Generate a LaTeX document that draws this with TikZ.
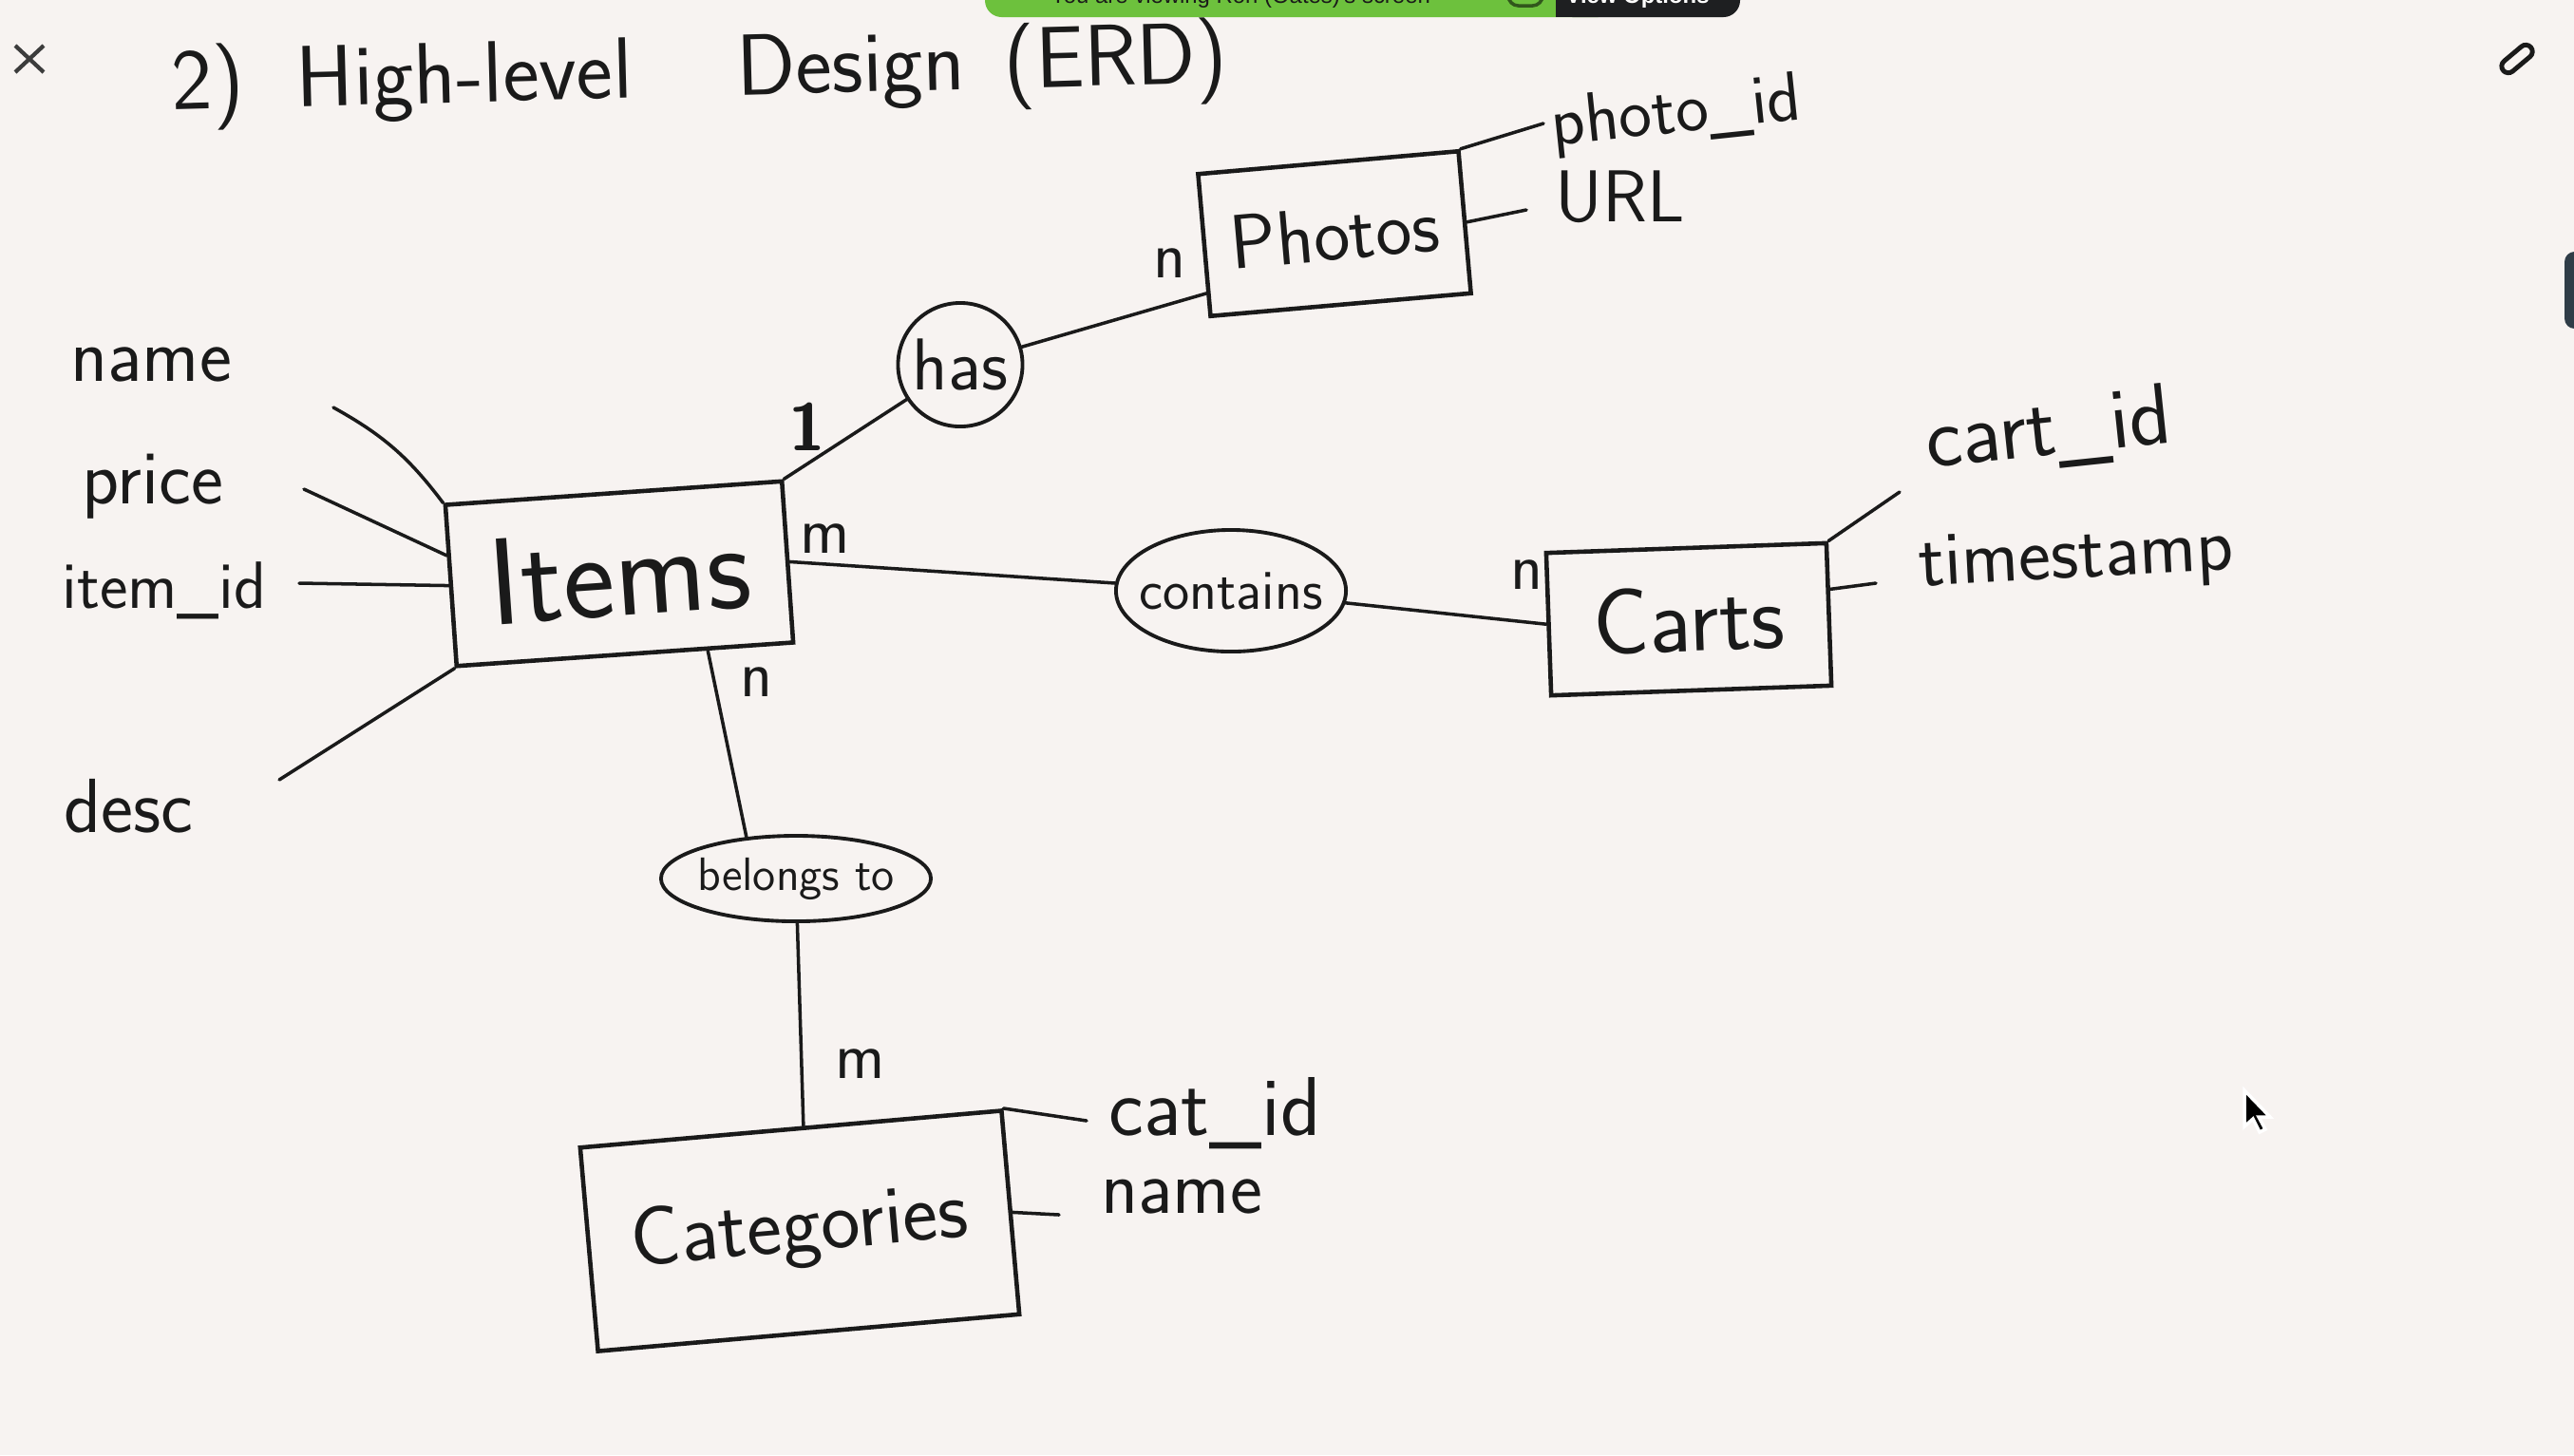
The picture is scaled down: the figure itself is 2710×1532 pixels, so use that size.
\documentclass[tikz,border=0pt]{standalone}
\usepackage{fontspec}
\newfontfamily\uifont{Liberation Sans}
\usetikzlibrary{positioning,shapes.geometric,calc}
\definecolor{paper}{HTML}{F7F3F1}
\definecolor{ink}{HTML}{1A1A1A}
\definecolor{zgreen}{HTML}{6DC13D}
\definecolor{zdark}{HTML}{1E1F21}
\definecolor{tabdark}{HTML}{2F3C47}

\begin{document}
\begin{tikzpicture}[
  x=0.01cm, y=-0.01cm,
  hand/.style={font=\fontsize{#1}{#1}\selectfont\sffamily, text=ink, inner sep=0pt},
  ent/.style={rectangle, draw=ink, line width=1.3pt, inner sep=0pt},
  rel/.style={ellipse, draw=ink, line width=1.1pt, inner sep=0pt},
  link/.style={draw=ink, line width=1pt, line cap=round},
  card/.style={hand=20},
]
\fill[paper] (0,0) rectangle (2710,1532);
\useasboundingbox (0,0) rectangle (2710,1532);

% ---------- Screen-share bar and icons ----------
\fill[zgreen, rounded corners=5pt] (1037,-20) rectangle (1700,18);
\fill[zdark, rounded corners=5pt] (1638,-20) rectangle (1832,18);
\fill[zdark] (1638,-20) rectangle (1660,18);
\node[font=\uifont\fontsize{6.8}{7}\selectfont, text=ink, anchor=base, inner sep=0pt] (viewing) at (1306,3) {You are viewing Ron (Oates)'s screen};
\draw[black!55!zgreen, line width=1pt, rounded corners=3pt] (1588,-12) rectangle (1624,6);
\node[font=\uifont\bfseries\fontsize{6.8}{7}\selectfont, text=white, anchor=base, inner sep=0pt] (viewopt) at (1724,3) {View Options};
\draw[ink!85, line width=1.2pt] (16,48) -- (46,76) (46,48) -- (16,76);
\draw[ink, line width=1.4pt, rounded corners=2pt, rotate around={40:(2650,62)}] (2631,55) rectangle (2669,69);
\fill[tabdark, rounded corners=3pt] (2700,265) rectangle (2740,346);
\filldraw[fill=black, draw=white, line width=1pt] (2363,1148) -- ++(0,38) -- ++(9,-8) -- ++(7,14)
  -- ++(6,-3) -- ++(-7,-13) -- ++(12,0) -- cycle;

% ---------- Title ----------
\node[hand=26, anchor=base west, rotate=1.5] (title) at (181,116)
  {2)\hspace{0.6em}High-level\hspace{1.2em}Design\hspace{0.45em}(ERD)};

% ---------- Entities ----------
\node[ent, minimum width=3.55cm, minimum height=1.7cm, rotate=4, hand=37] (items) at (652,604) {Items};
\node[ent, minimum width=2.75cm, minimum height=1.5cm, rotate=5, hand=23] (photos) at (1405,246) {Photos};
\node[ent, minimum width=2.95cm, minimum height=1.5cm, rotate=2, hand=28] (carts) at (1778,652) {Carts};
\node[ent, minimum width=4.45cm, minimum height=2.15cm, rotate=5, hand=25] (cats) at (842,1296) {Categories};

% ---------- Relationships ----------
\node[rel, minimum width=1.31cm, minimum height=1.3cm, label={[hand=22]center:has}] (has) at (1011,384) {};
\node[rel, minimum width=2.42cm, minimum height=1.28cm, label={[hand=17]center:contains}] (contains) at (1296,622) {};
\node[rel, minimum width=2.84cm, minimum height=0.9cm, label={[hand=14]center:belongs to}] (belongs) at (838,925) {};

\draw[link] (items.north east) -- (has);
\draw[link] (has) -- (photos.200);
\draw[link] (items.east) -- (contains);
\draw[link] (contains) -- (carts.west);
\draw[link] (items.-45) -- (belongs.140);
\draw[link] (belongs) -- (cats.83);

% ---------- Cardinalities ----------
\node[card, font=\fontsize{20}{20}\selectfont\sffamily\bfseries] (c1) at (850,449) {1};
\node[card] (cn1) at (1231,277) {n};
\node[card] (cm1) at (869,567) {m};
\node[card] (cn2) at (1607,605) {n};
\node[card] (cn3) at (797,718) {n};
\node[card] (cm2) at (906,1120) {m};

% ---------- Attributes ----------
\node[hand=23] (aname) at (159,384) {name};
\node[hand=23] (aprice) at (161,512) {price};
\node[hand=20] (aitemid) at (173,622) {item\_id};
\node[hand=23] (adesc) at (135,849) {desc};
\node[hand=21, rotate=6] (aphotoid) at (1765,121) {photo\_id};
\node[hand=22] (aurl) at (1706,207) {URL};
\node[hand=26, rotate=6] (acartid) at (2157,455) {cart\_id};
\node[hand=23, rotate=3] (atime) at (2186,590) {timestamp};
\node[hand=25] (acatid) at (1279,1172) {cat\_id};
\node[hand=23] (acatname) at (1244,1260) {name};

\coordinate (tname) at (351,429);
\coordinate (tprice) at (320,515);
\coordinate (titemid) at (315,614);
\coordinate (tdesc) at (294,821);
\coordinate (tphotoid) at (1625,130);
\coordinate (turl) at (1607,221);
\coordinate (tcartid) at (2000,518);
\coordinate (ttime) at (1975,614);
\coordinate (tcatid) at (1144,1180);
\coordinate (tcatname) at (1115,1279);

\draw[link] (tname) to[bend left=12] (items.north west);
\draw[link] (tprice) -- (items.170);
\draw[link] (titemid) -- (items.west);
\draw[link] (tdesc) -- (items.south west);
\draw[link] (photos.north east) -- (tphotoid);
\draw[link] (photos.east) -- (turl);
\draw[link] (carts.north east) -- (tcartid);
\draw[link] (carts.10) -- (ttime);
\draw[link] (cats.north east) -- (tcatid);
\draw[link] (cats.east) -- (tcatname);
\end{tikzpicture}
\end{document}
